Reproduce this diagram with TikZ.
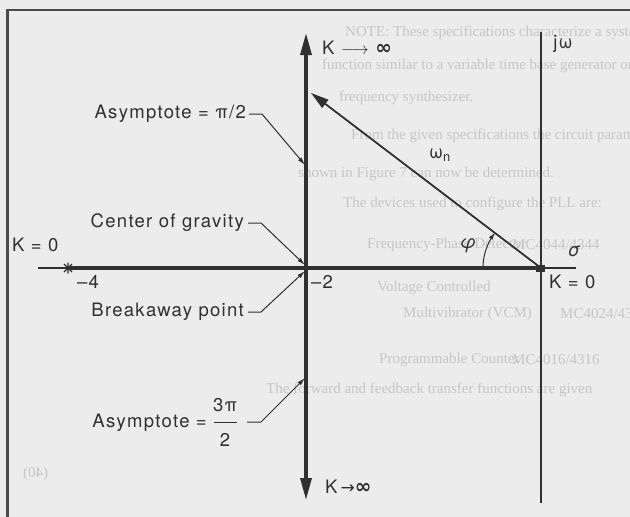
\documentclass[tikz,border=0pt]{standalone}
\usepackage{fontspec}
\setmainfont{Liberation Serif}
\newfontfamily\labfont[LetterSpace=7]{TeX Gyre Heros}
\newfontfamily\symfont{DejaVu Sans}
\usetikzlibrary{arrows.meta}
\definecolor{ink}{HTML}{303030}
\definecolor{paper}{HTML}{ECECEC}
\definecolor{ghost}{HTML}{C6C6C6}
\definecolor{framec}{HTML}{4A4A4A}
\begin{document}
\begin{tikzpicture}[x=1pt,y=-1pt,
  lab/.style={font=\labfont\fontsize{18.5}{18.5}\selectfont, text=ink, inner sep=0pt},
  ghosttext/.style={font=\fontsize{15}{15}\selectfont, text=ghost, inner sep=0pt, anchor=west},
  axisline/.style={draw=ink, line width=1.3pt},
  locus/.style={draw=ink, line width=3.3pt},
  bigtip/.style={-{Triangle[length=22pt,width=11pt]}},
  diagline/.style={draw=ink, line width=1.8pt, -{Triangle[length=18pt,width=10pt]}},
  leader/.style={draw=ink, line width=1pt, -{Latex[length=8pt,width=4.5pt]}},
]
\fill[paper] (0,0) rectangle (630,517);
\useasboundingbox (0,0) rectangle (630,517);

% faint show-through text
\node[ghosttext] (g1) at (345,33) {NOTE: These specifications characterize a system};
\node[ghosttext] (g2) at (322,66) {function similar to a variable time base generator or a};
\node[ghosttext] (g3) at (339,98) {frequency synthesizer.};
\node[ghosttext] (g4) at (351,136) {From the given specifications the circuit parameters};
\node[ghosttext] (g5) at (298,174) {shown in Figure 7 can now be determined.};
\node[ghosttext] (g6) at (343,204) {The devices used to configure the PLL are:};
\node[ghosttext] (g7) at (367,245) {Frequency-Phase Detector};
\node[ghosttext] (g7b) at (512,245) {MC4044/4344};
\node[ghosttext] (g8) at (377,288) {Voltage Controlled};
\node[ghosttext] (g9) at (403,314) {Multivibrator (VCM)};
\node[ghosttext] (g9b) at (560,314) {MC4024/4324};
\node[ghosttext] (g10) at (379,360) {Programmable Counter};
\node[ghosttext] (g10b) at (512,360) {MC4016/4316};
\node[ghosttext] (g11) at (266,390) {The forward and feedback transfer functions are given};
\node[ghosttext, xscale=-1, anchor=east] (g12) at (23,474) {(40)};

% frame
\draw[framec, line width=2.2pt] (7.5,517) -- (7.5,10) -- (630,10);

% key points
\coordinate (o) at (541,268);
\coordinate (m2) at (306,268);
\coordinate (m4) at (68,268);
\coordinate (sl) at (38,268);
\coordinate (sr) at (576,268);
\coordinate (jt) at (541,32);
\coordinate (jb) at (541,503);
\coordinate (vt) at (306,33);
\coordinate (vb) at (306,500);
\coordinate (wtip) at (311,93);

% axes and loci
\draw[axisline] (sl) -- (sr);
\draw[axisline] (jt) -- (jb);
\draw[locus] (m4) -- (o);
\draw[locus, bigtip] (m2) -- (vt);
\draw[locus, bigtip] (m2) -- (vb);
\draw[diagline] (o) -- (wtip);

% poles
\draw[ink, line width=1.2pt] (64,264) -- (72,272) (64,272) -- (72,264) (68,262.5) -- (68,273.5);
\fill[ink] (536,264.5) rectangle (545,271.5);

% angle arc
\draw[ink, line width=1pt, -{Latex[length=7pt,width=4.5pt]}]
  plot[domain=0:37.3, samples=25] ({541-58*cos(\x)},{268-58*sin(\x)});

% labels
\node[lab, anchor=west] (ktop) at (322,48) {K $\longrightarrow$ {\symfont\bfseries\fontsize{20}{20}\selectfont ∞}};
\node[lab] (jw) at (563,44) {jω};
\node[lab] (wn) at (440,155) {ω\textsubscript{n}};
\node[lab] (phi) at (468,246) {\itshape φ};
\node[lab] (sig) at (574,251) {\itshape σ};
\node[lab, anchor=west] (k0l) at (12,245) {K = 0};
\node[lab] (lm4) at (88,282) {–4};
\node[lab] (lm2) at (322,282) {–2};
\node[lab, anchor=west] (k0r) at (549,282) {K = 0};
\node[lab, anchor=west] (kbot) at (325,487) {K\,{\symfont\fontsize{17}{17}\selectfont →}{\symfont\bfseries\fontsize{20}{20}\selectfont ∞}};

\node[lab, anchor=east] (asy1) at (246,114) {Asymptote = π/2};
\node[lab, anchor=east] (cog) at (244,223) {Center of gravity};
\node[lab, anchor=east] (brk) at (244,312) {Breakaway point};
\node[lab, anchor=east] (asy2) at (207,423) {Asymptote =};
\node[lab] (num) at (225,405) {3π};
\node[lab] (den) at (225,440) {2};
\draw[ink, line width=0.9pt] (214,422) -- (237,422);

\coordinate (t1) at (305,165);
\coordinate (t2) at (305,265);
\coordinate (t3) at (305,271);
\coordinate (t4) at (305,378);
\draw[leader] ([xshift=3pt]asy1.east) -- ++(13,0) -- (t1);
\draw[leader] ([xshift=4pt]cog.east) -- ++(13,0) -- (t2);
\draw[leader] ([xshift=4pt]brk.east) -- ++(13,0) -- (t3);
\draw[leader] (247,422) -- (261,422) -- (t4);
\end{tikzpicture}
\end{document}
